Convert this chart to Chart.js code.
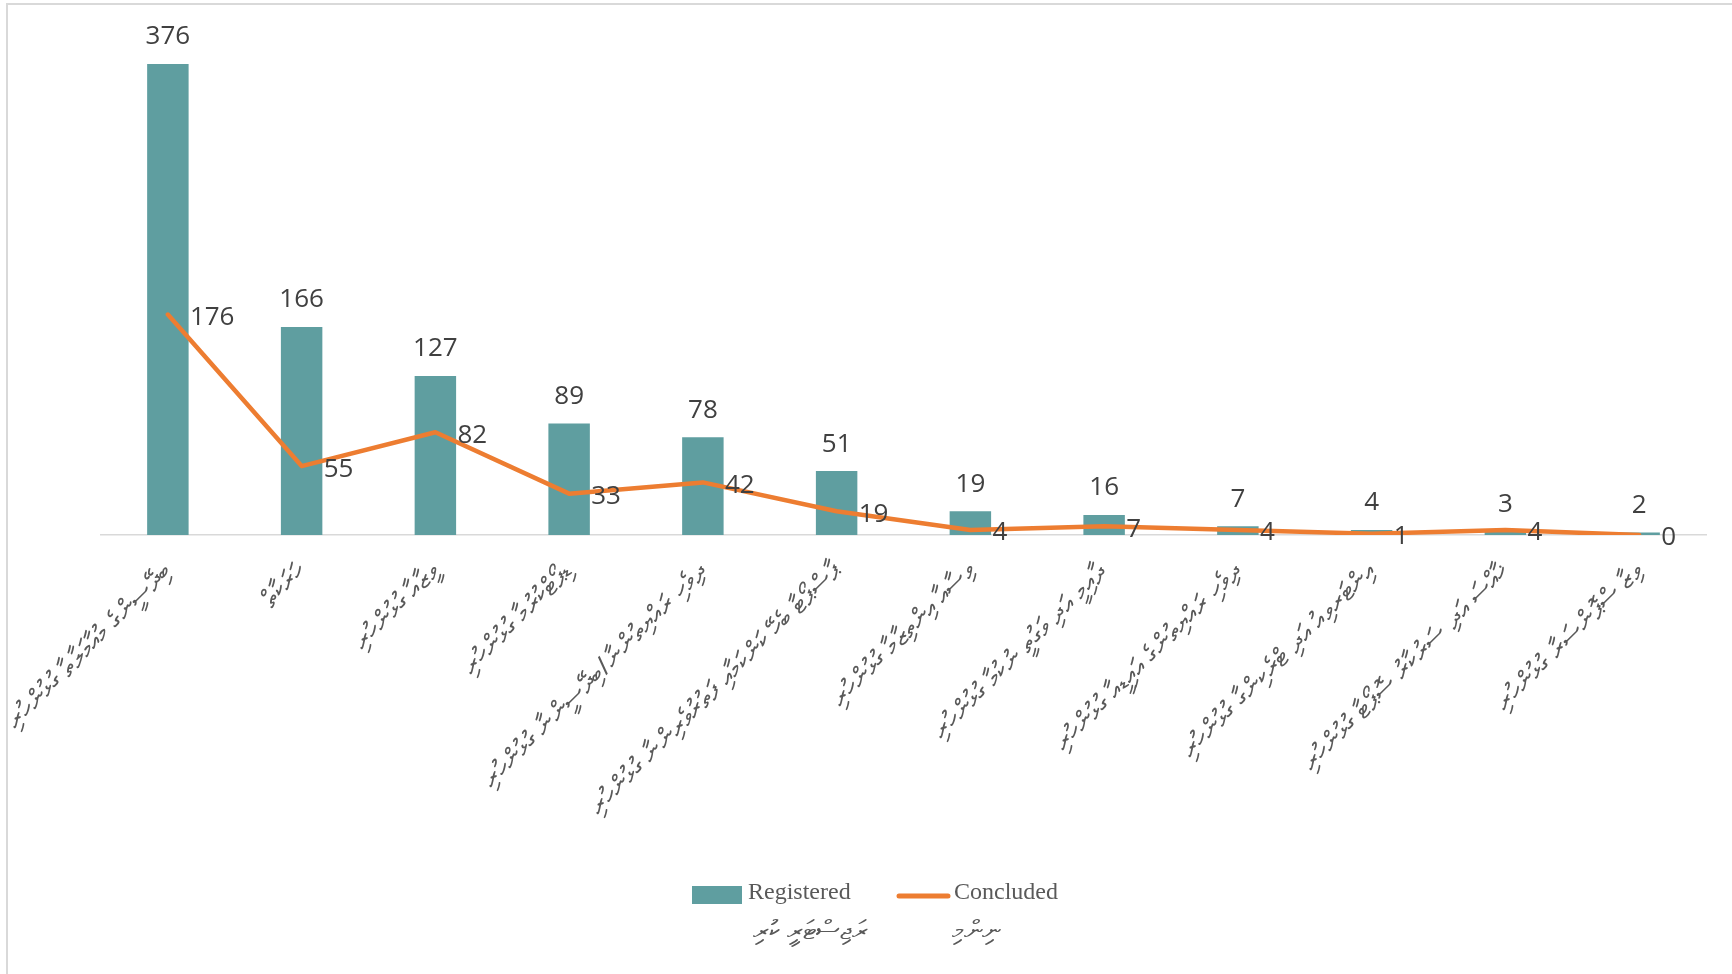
<!DOCTYPE html>
<html>
<head>
<meta charset="utf-8">
<script src="https://cdn.jsdelivr.net/npm/chart.js@4.4.1/dist/chart.umd.min.js"></script>
<style>
  html, body { margin: 0; padding: 0; background: #ffffff; }
  #wrap { position: relative; width: 1732px; height: 974px; overflow: hidden; }
  #frame { position: absolute; left: 6px; top: 3px; width: 1740px; height: 980px; border: 2px solid #d9d9d9; box-sizing: border-box; }
  #c { position: absolute; left: 0; top: 0; }
</style>
</head>
<body>
<div id="wrap">
  <div id="frame"></div>
  <canvas id="c" width="1732" height="974"></canvas>
</div>
<script>
// ---- data ----
const categories = [
  "ބިދޭސީންގެ މުއާމަލާތާ ގުޅުންހުރި",
  "ހަރަކާތް",
  "ވީޒާއާ ގުޅުންހުރި",
  "ޑިޕޯޓްކުރުމާ ގުޅުންހުރި",
  "ދިވެހި ރައްޔިތުންނާ/ބިދޭސީންނާ ގުޅުންހުރި",
  "ޕާސްޕޯޓާ ބެހޭ ކަންކަމާއި ފަތުރުވެރިންނާ ގުޅުންހުރި",
  "ވިސާއާ އިންތިޒާމާ ގުޅުންހުރި",
  "ދާއިމީ އަދި ވަގުތީ ނުކުމާ ގުޅުންހުރި",
  "ދިވެހި ރައްޔިތުންގެ އައިޑީއާ ގުޅުންހުރި",
  "އިންޓަރވިއު އަދި ޓްރެކިންގާ ގުޅުންހުރި",
  "ޚާއްސަ އަދި ސަރުކާރު ސޮޕޯޓާ ގުޅުންހުރި",
  "ވިޒާ ސްޕޮންސަރާ ގުޅުންހުރި"
];
const registered = [376, 166, 127, 89, 78, 51, 19, 16, 7, 4, 3, 2];
const concluded  = [176, 55, 82, 33, 42, 19, 4, 7, 4, 1, 4, 0];
const legendMain = ["Registered", "Concluded"];
const legendSub  = ["ރަޖިސްޓަރީ ކުރި", "ނިންމި"];

const BAR_COLOR = "#5f9ea0";
const LINE_COLOR = "#ed7d31";
const LABEL_COLOR = "#404040";

const valueLabels = {
  id: "valueLabels",
  afterDatasetsDraw(chart) {
    const ctx = chart.ctx;
    ctx.save();
    ctx.font = "26px 'Open Sans', sans-serif";
    ctx.fillStyle = LABEL_COLOR;
    const barMeta = chart.getDatasetMeta(0);
    ctx.textAlign = "center";
    ctx.textBaseline = "middle";
    barMeta.data.forEach((el, i) => {
      ctx.fillText(String(chart.data.datasets[0].data[i]), el.x, el.y - 27);
    });
    const lineMeta = chart.getDatasetMeta(1);
    ctx.textAlign = "left";
    lineMeta.data.forEach((el, i) => {
      ctx.fillText(String(chart.data.datasets[1].data[i]), el.x + 22, el.y + 3);
    });
    ctx.restore();
  }
};

const customLegend = {
  id: "customLegend",
  afterDraw(chart) {
    const ctx = chart.ctx;
    ctx.save();
    ctx.fillStyle = BAR_COLOR;
    ctx.fillRect(692, 886, 50, 18);
    ctx.fillStyle = "#595959";
    ctx.font = "24px 'Liberation Serif', serif";
    ctx.textBaseline = "middle";
    ctx.textAlign = "left";
    ctx.fillText(legendMain[0], 748, 893);
    ctx.strokeStyle = LINE_COLOR;
    ctx.lineWidth = 5;
    ctx.lineCap = "round";
    ctx.beginPath();
    ctx.moveTo(899, 896);
    ctx.lineTo(948, 896);
    ctx.stroke();
    ctx.fillText(legendMain[1], 954, 893);
    ctx.font = "27px 'Noto Sans', 'DejaVu Sans', sans-serif";
    ctx.textAlign = "right";
    ctx.fillText(legendSub[0], 867, 931);
    ctx.fillText(legendSub[1], 1000, 931);
    ctx.restore();
  }
};

new Chart(document.getElementById("c"), {
  data: {
    labels: categories,
    datasets: [
      {
        type: "bar",
        label: legendMain[0],
        data: registered,
        backgroundColor: BAR_COLOR,
        borderWidth: 0,
        barPercentage: 0.62,
        categoryPercentage: 0.5,
        order: 2
      },
      {
        type: "line",
        label: legendMain[1],
        data: concluded,
        borderColor: LINE_COLOR,
        backgroundColor: LINE_COLOR,
        borderWidth: 4.5,
        pointRadius: 0,
        tension: 0,
        borderCapStyle: "round",
        borderJoinStyle: "round",
        order: 1
      }
    ]
  },
  options: {
    responsive: false,
    animation: false,
    layout: { padding: { left: 101, right: 26, top: 34, bottom: 0 } },
    plugins: { legend: { display: false }, tooltip: { enabled: false } },
    scales: {
      y: { display: false, min: 0, max: 400 },
      x: {
        grid: { display: false, drawTicks: false },
        border: { display: true, color: "#d9d9d9", width: 1.5 },
        ticks: {
          minRotation: 45,
          maxRotation: 45,
          autoSkip: false,
          color: "#595959",
          padding: 22,
          font: { size: 26, family: "'Noto Sans', 'DejaVu Sans', sans-serif" }
        },
        afterFit(scale) {
          scale.height = 974 - 535;
          scale.paddingLeft = 0;
          scale.paddingRight = 0;
        }
      }
    }
  },
  plugins: [valueLabels, customLegend]
});
</script>
</body>
</html>
